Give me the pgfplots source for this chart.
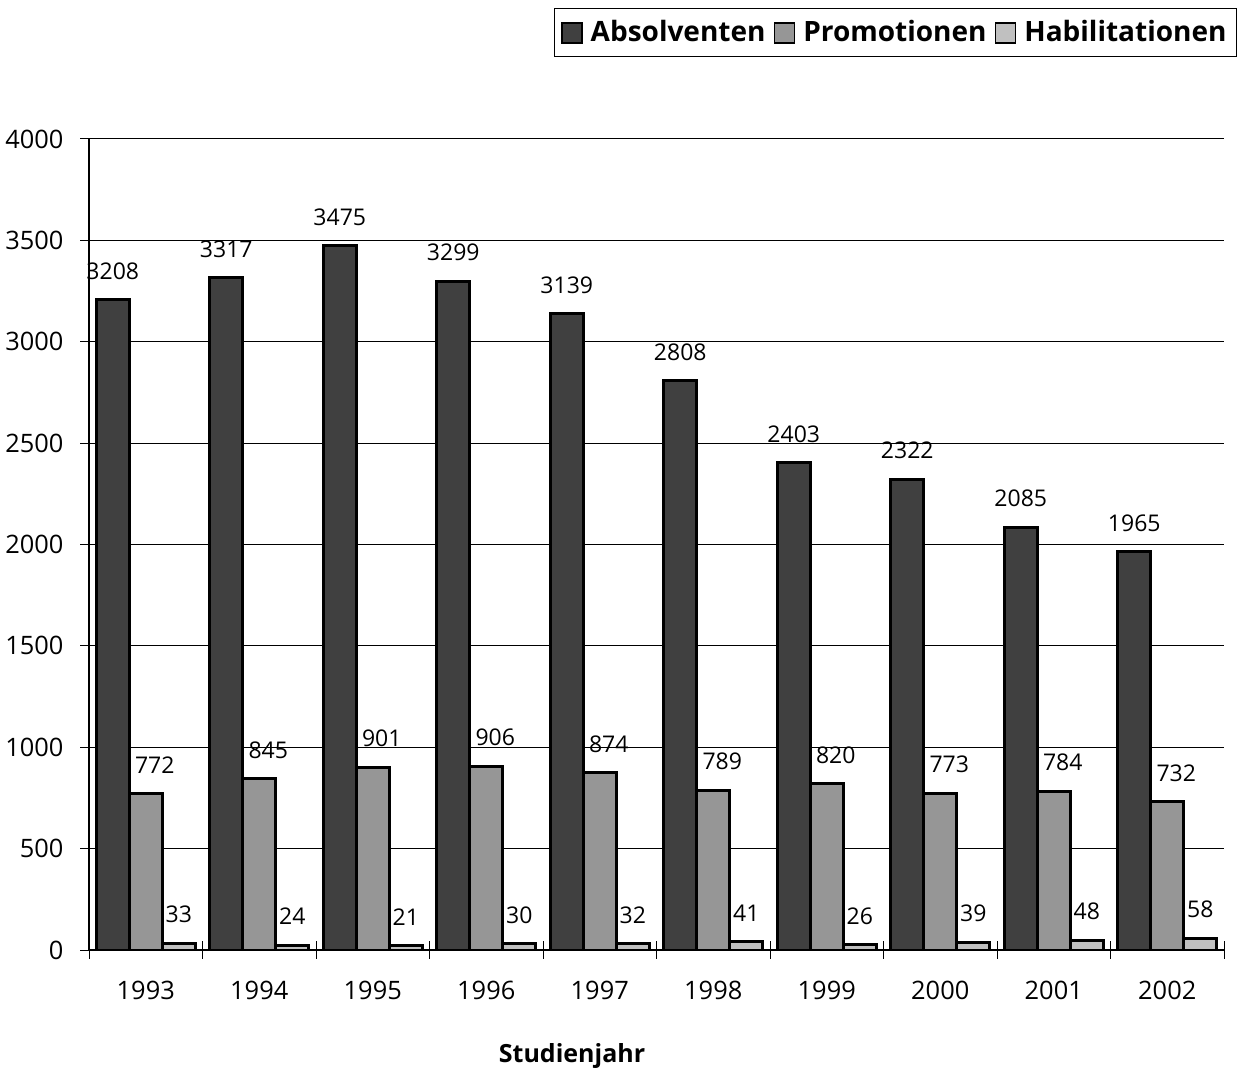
\documentclass[border=0pt]{standalone}
\usepackage{fontspec}
\setmainfont{Open Sans}
\usepackage{pgfplots}
\pgfplotsset{compat=1.18}
\definecolor{cA}{RGB}{64,64,64}
\definecolor{cB}{RGB}{150,150,150}
\definecolor{cC}{RGB}{192,192,192}
\begin{document}
\begin{tikzpicture}
\useasboundingbox (0,0) rectangle (619.5bp,534bp);
\begin{axis}[
  at={(44.5bp,59bp)}, anchor=south west,
  width=567.5bp, height=405.5bp, scale only axis,
  xmin=-0.5, xmax=9.5, ymin=0, ymax=4000,
  ybar=0pt, bar width=16.5bp,
  /pgf/number format/assume math mode=true,
  /pgf/number format/1000 sep={},
  xtick={-0.5,0.5,1.5,2.5,3.5,4.5,5.5,6.5,7.5,8.5,9.5},
  xticklabels={},
  extra x ticks={0,1,2,3,4,5,6,7,8,9},
  extra x tick labels={1993,1994,1995,1996,1997,1998,1999,2000,2001,2002},
  extra x tick style={major tick length=0pt, grid=none, tick style={draw=none}},
  ytick={0,500,...,4000},
  ymajorgrids, grid style={black, line width=0.5bp},
  tick align=center, major tick length=8.5bp,
  tick style={black, line width=0.5bp},
  axis x line*=bottom, axis y line*=left,
  axis line style={-, line width=0.6bp},
  ticklabel style={font=\fontsize{12.7bp}{15bp}\selectfont},
  yticklabel style={xshift=-5bp},
  xticklabel style={yshift=-12bp},
  xlabel={\bfseries Studienjahr},
  xlabel style={at={(axis description cs:0.4256,0)}, anchor=base, yshift=-56bp, font=\fontsize{12.5bp}{15bp}\selectfont},
  nodes near coords,
  every node near coord/.append style={font=\fontsize{11.5bp}{14bp}\selectfont, yshift=6bp},
  legend columns=3,
  legend style={at={(1.01145,1.1615)}, anchor=north east, draw=black, line width=0.5bp,
    inner xsep=3bp, inner ysep=4bp,
    font=\bfseries\fontsize{14bp}{17bp}\selectfont,
    /tikz/every odd column/.append style={column sep=2bp},
    /tikz/every even column/.append style={column sep=2bp}},
  legend image code/.code={\draw[#1,draw=black,line width=0.9bp] (0bp,-5bp) rectangle (10bp,5bp);},
]
\addplot[fill=cA, draw=black, line width=1.5bp] coordinates {
(0,3208) (1,3317) (2,3475) (3,3299) (4,3139) (5,2808) (6,2403) (7,2322) (8,2085) (9,1965)};
\addplot[fill=cB, draw=black, line width=1.5bp, every node near coord/.append style={xshift=4.5bp}] coordinates {
(0,772) (1,845) (2,901) (3,906) (4,874) (5,789) (6,820) (7,773) (8,784) (9,732)};
\addplot[fill=cC, draw=black, line width=1.5bp] coordinates {
(0,33) (1,24) (2,21) (3,30) (4,32) (5,41) (6,26) (7,39) (8,48) (9,58)};
\legend{Absolventen,Promotionen,Habilitationen}
\end{axis}
\end{tikzpicture}
\end{document}
